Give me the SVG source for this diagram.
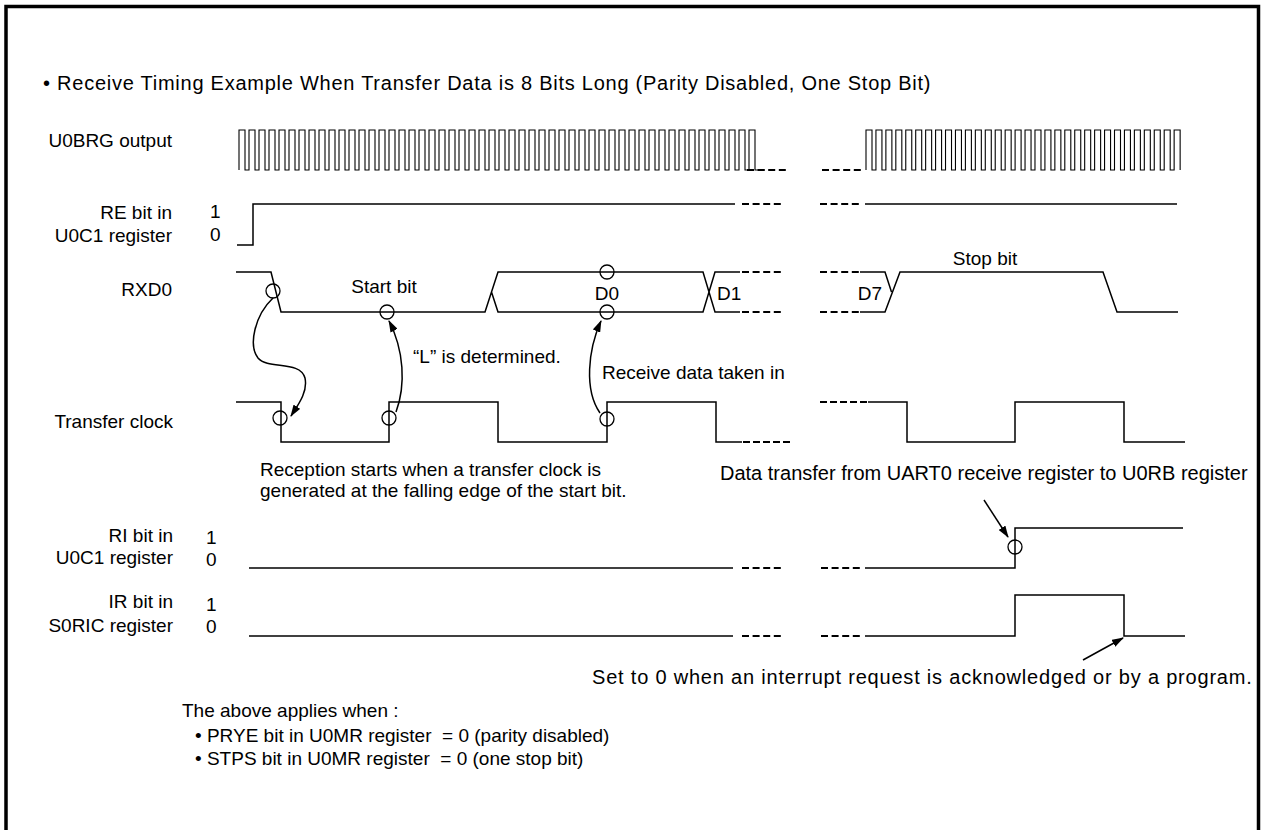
<svg xmlns="http://www.w3.org/2000/svg" width="1265" height="830" viewBox="0 0 1265 830">
<defs>
<marker id="ah" viewBox="0 0 12 8" refX="11" refY="4" markerWidth="12" markerHeight="8" markerUnits="userSpaceOnUse" orient="auto">
<path d="M0,0 L12,4 L0,8 Z" fill="#000"/>
</marker>
</defs>
<style>
text{font-family:"Liberation Sans",Arial,sans-serif;font-size:19px;fill:#000}
.t{font-size:20px;letter-spacing:0.75px}
.big{font-size:20px;letter-spacing:0.8px}
.e{text-anchor:end}
.m{text-anchor:middle}
.w{fill:none;stroke:#000;stroke-width:1.5}
.clk{fill:none;stroke:#000;stroke-width:1.1}
.d{fill:none;stroke:#000;stroke-width:2.2;stroke-dasharray:7 3.6}
.c{fill:none;stroke:#000;stroke-width:1.3}
.a{fill:none;stroke:#000;stroke-width:1.5;marker-end:url(#ah)}
</style>
<rect width="1265" height="830" fill="#fff"/>
<path d="M6,832 V6.5 H1258.5 V832" fill="none" stroke="#000" stroke-width="3.5"/>
<text class="t" x="43" y="90">• Receive Timing Example When Transfer Data is 8 Bits Long (Parity Disabled, One Stop Bit)</text>

<g id="u0brg">
<text class="e" x="172" y="147">U0BRG output</text>
<path class="clk" d="M239,170 V130h6V170h4V130h6V170h4V130h6V170h4V130h6V170h4V130h6V170h4V130h6V170h4V130h6V170h4V130h6V170h4V130h6V170h4V130h6V170h4V130h6V170h4V130h6V170h4V130h6V170h4V130h6V170h4V130h6V170h4V130h6V170h4V130h6V170h4V130h6V170h4V130h6V170h4V130h6V170h4V130h6V170h4V130h6V170h4V130h6V170h4V130h6V170h4V130h6V170h4V130h6V170h4V130h6V170h4V130h6V170h4V130h6V170h4V130h6V170h4V130h6V170h4V130h6V170h4V130h6V170h4V130h6V170h4V130h6V170h4V130h6V170h4V130h6V170h4V130h6V170h4V130h6V170h4V130h6V170h4V130h6V170h4V130h6V170h4V130h6V170h4V130h6V170h4V130h6V170h4V130h6V170h4V130h6V170h4V130h6V170h4V130h6V170h4V130h6V170h4V130h6V170h4V130h6V170h10"/>
<path class="d" d="M747,170 H786 M822,170 H861"/>
<path class="clk" d="M866,170 V130h6V170h3.94V130h6V170h3.94V130h6V170h3.94V130h6V170h3.94V130h6V170h3.94V130h6V170h3.94V130h6V170h3.94V130h6V170h3.94V130h6V170h3.94V130h6V170h3.94V130h6V170h3.94V130h6V170h3.94V130h6V170h3.94V130h6V170h3.94V130h6V170h3.94V130h6V170h3.94V130h6V170h3.94V130h6V170h3.94V130h6V170h3.94V130h6V170h3.94V130h6V170h3.94V130h6V170h3.94V130h6V170h3.94V130h6V170h3.94V130h6V170h3.94V130h6V170h3.94V130h6V170h3.94V130h6V170h3.94V130h6V170h3.94V130h6V170h3.94V130h6V170h3.94V130h6V170"/>
</g>

<g id="re">
<text class="e" x="172" y="219">RE bit in</text>
<text class="e" x="172" y="242">U0C1 register</text>
<text x="210" y="218">1</text>
<text x="210" y="241">0</text>
<path class="w" d="M237,245 H253 V204 H735"/>
<path class="d" d="M742,204 H781 M820,204 H859"/>
<path class="w" d="M865,204 H1177"/>
</g>

<g id="rxd0">
<text class="e" x="172" y="296">RXD0</text>
<path class="w" d="M236,272 H271 L281,312 H485 L498,272 H703 L715,312 H740 M491.5,292 L498,312 H703 L715,272 H740"/>
<path class="d" d="M742,272 H781 M742,312 H781 M820,272 H859 M820,312 H859"/>
<path class="w" d="M860,272 H885 L891.5,292 M860,312 H885 L900,272 H1103 L1117,312 H1178"/>
<text class="m" x="384" y="293">Start bit</text>
<text class="m" x="607" y="300">D0</text>
<text x="717" y="300">D1</text>
<text class="e" x="882" y="300">D7</text>
<text class="m" x="985" y="265">Stop bit</text>
<circle class="c" cx="273" cy="291" r="7"/>
<circle class="c" cx="387" cy="312" r="7"/>
<circle class="c" cx="607" cy="272" r="7"/>
<circle class="c" cx="607" cy="312" r="7"/>
</g>

<g id="tclk">
<text class="e" x="173" y="428">Transfer clock</text>
<path class="w" d="M236,402 H281 V442 H389 V402 H498 V442 H607 V402 H716 V442 H742"/>
<path class="d" d="M743,442 H790 M820,402 H867" style="stroke-dasharray:7 3"/>
<path class="w" d="M868,402 H907 V442 H1015 V402 H1124 V442 H1185"/>
<circle class="c" cx="280" cy="418" r="7"/>
<circle class="c" cx="389" cy="418" r="7"/>
<circle class="c" cx="607" cy="419" r="7"/>
</g>

<g id="ri">
<text class="e" x="173" y="542">RI bit in</text>
<text class="e" x="173" y="564">U0C1 register</text>
<text x="206" y="544">1</text>
<text x="206" y="566">0</text>
<path class="w" d="M249,568 H733"/>
<path class="d" d="M742,568 H781 M821,568 H860"/>
<path class="w" d="M865,568 H1015 V528 H1183"/>
<circle class="c" cx="1015" cy="547" r="7"/>
</g>

<g id="ir">
<text class="e" x="173" y="608">IR bit in</text>
<text class="e" x="173" y="632">S0RIC register</text>
<text x="206" y="611">1</text>
<text x="206" y="633">0</text>
<path class="w" d="M249,636 H733"/>
<path class="d" d="M742,636 H781 M821,636 H860"/>
<path class="w" d="M865,636 H1015 V595 H1124 V636 H1185"/>
</g>

<g id="notes">
<text x="413" y="363">“L” is determined.</text>
<text x="602" y="379">Receive data taken in</text>
<text x="260" y="476">Reception starts when a transfer clock is</text>
<text x="260" y="497">generated at the falling edge of the start bit.</text>
<text x="720" y="480" style="font-size:20px">Data transfer from UART0 receive register to U0RB register</text>
<text class="big" x="592" y="684">Set to 0 when an interrupt request is acknowledged or by a program.</text>
<text x="182" y="717">The above applies when :</text>
<text x="195" y="742" xml:space="preserve">• PRYE bit in U0MR register  = 0 (parity disabled)</text>
<text x="195" y="765" xml:space="preserve">• STPS bit in U0MR register  = 0 (one stop bit)</text>
</g>

<g id="connectors">
<path class="a" d="M273,298 C255,315 248,345 258,358 C268,370 300,360 305,378 C308,392 298,405 291,416"/>
<path class="a" d="M396,412 C406,385 404,350 389,321"/>
<path class="a" d="M600,413 C584,390 588,350 601,321"/>
<path class="a" d="M984,500 L1008,537"/>
<path class="a" d="M1083,660 L1123,638"/>
</g>
</svg>
